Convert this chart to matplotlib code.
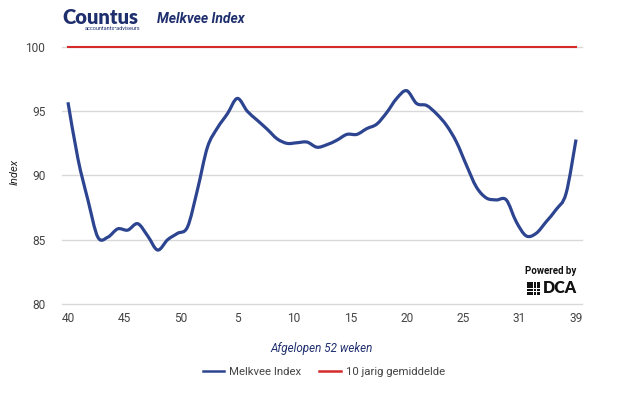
import matplotlib.pyplot as plt
import matplotlib.patches as patches
from matplotlib.path import Path
import numpy as np

plt.rcParams['font.family'] = ['Roboto', 'DejaVu Sans']

# weekly index values, week 40 .. week 39 (52 weeks)
index_values = [95.7, 91.3, 88.1, 85.2, 85.2, 85.85, 85.75, 86.25, 85.3, 84.2,
                85.0, 85.5, 86.0, 88.9, 92.2, 93.7, 94.8, 96.0, 95.0, 94.3,
                93.6, 92.85, 92.5, 92.55, 92.6, 92.2, 92.4, 92.75, 93.2, 93.2,
                93.65, 94.0, 94.9, 96.0, 96.6, 95.6, 95.45, 94.8, 93.9, 92.6,
                90.8, 89.1, 88.25, 88.1, 88.1, 86.4, 85.3, 85.5, 86.4, 87.35,
                88.6, 92.8]
average_10y = 100
tick_labels = ['40', '45', '50', '5', '10', '15', '20', '25', '31', '39']
y_ticks = [80, 85, 90, 95, 100]

blue = '#2d4590'
red = '#d42a2a'
navy = '#1f2f6e'
grey_text = '#444444'

weeks = np.arange(len(index_values))
vals = np.array(index_values)


def smooth_path(x, y, t=1 / 6):
    # bezier curve through the points (like a "function" curve type)
    verts = [(x[0], y[0])]
    codes = [Path.MOVETO]
    n = len(x)
    for i in range(n - 1):
        x0, y0 = (x[i - 1], y[i - 1]) if i > 0 else (x[i], y[i])
        x3, y3 = (x[i + 2], y[i + 2]) if i < n - 2 else (x[i + 1], y[i + 1])
        c1 = (x[i] + (x[i + 1] - x0) * t, y[i] + (y[i + 1] - y0) * t)
        c2 = (x[i + 1] - (x3 - x[i]) * t, y[i + 1] - (y3 - y[i]) * t)
        verts += [c1, c2, (x[i + 1], y[i + 1])]
        codes += [Path.CURVE4] * 3
    return Path(verts, codes)


fig = plt.figure(figsize=(6.25, 3.96), dpi=100)
ax = fig.add_axes([62 / 625, 1 - 304 / 396, 520 / 625, 257 / 396])

for y in y_ticks:
    ax.axhline(y, color='#d9d9d9', lw=1, zorder=0, clip_on=False)

ax.add_patch(patches.PathPatch(smooth_path(weeks, vals), fill=False,
                               edgecolor=blue, lw=2.3, joinstyle='round',
                               capstyle='butt', zorder=3))
# empty line only for the legend entry
ax.plot([], [], color=blue, lw=1.8, label='Melkvee Index')
ax.plot([weeks[0], weeks[-1]], [average_10y, average_10y], color=red, lw=1.5,
        label='10 jarig gemiddelde', zorder=2, clip_on=False)

ax.set_xlim(-0.6, len(index_values) - 1 + 0.6)
ax.set_ylim(80, 100)
ax.set_yticks(y_ticks)
ax.set_xticks(np.linspace(0, len(index_values) - 1, len(tick_labels)))
ax.set_xticklabels(tick_labels)
ax.tick_params(axis='both', length=0, labelsize=8.6, colors=grey_text)
ax.tick_params(axis='y', pad=12)
ax.tick_params(axis='x', pad=6)
for s in ax.spines.values():
    s.set_visible(False)

ax.set_xlabel('Afgelopen 52 weken', fontsize=8.4, style='italic', color=navy,
              labelpad=12)
fig.text(15 / 625, 1 - 172 / 396, 'Index', fontsize=8, style='italic',
         color='#222222', rotation=90, ha='center', va='center')

leg = fig.legend(loc='center', bbox_to_anchor=(0.518, 1 - 372 / 396), ncol=2,
                 frameon=False, fontsize=8.2, handlelength=1.9, columnspacing=1.6,
                 handletextpad=0.4, labelcolor=grey_text)
for h in leg.get_lines():
    h.set_linewidth(1.8)

# header: logo text and title
fig.text(62 / 625, 1 - 17 / 396, 'Countus', fontsize=14.5, fontweight='heavy',
         family=['Lato', 'DejaVu Sans'], color=navy, va='center', ha='left')
fig.text(140 / 625, 1 - 28.5 / 396, 'accountants\u2022adviseurs', fontsize=4,
         color=navy, va='center', ha='right')
fig.text(157 / 625, 1 - 19 / 396, 'Melkvee Index', fontsize=10,
         fontweight='bold', style='italic', color=navy, va='center', ha='left')

# powered by DCA mark
fig.text(551 / 625, 1 - 271 / 396, 'Powered by', fontsize=7, fontweight='bold',
         color='#111111', va='center', ha='center')
fig.text(577 / 625, 1 - 288 / 396, 'DCA', fontsize=11.5, fontweight='heavy',
         family=['Lato', 'DejaVu Sans'], color='#111111', va='center', ha='right')
for r in range(4):
    for c in range(4):
        fig.patches.append(patches.Rectangle(
            ((527 + c * 3.4) / 625, 1 - (282 + r * 3.4 + 2.6) / 396),
            2.6 / 625, 2.6 / 396, transform=fig.transFigure,
            color='#111111', lw=0))

fig.savefig('out.png', dpi=100)
